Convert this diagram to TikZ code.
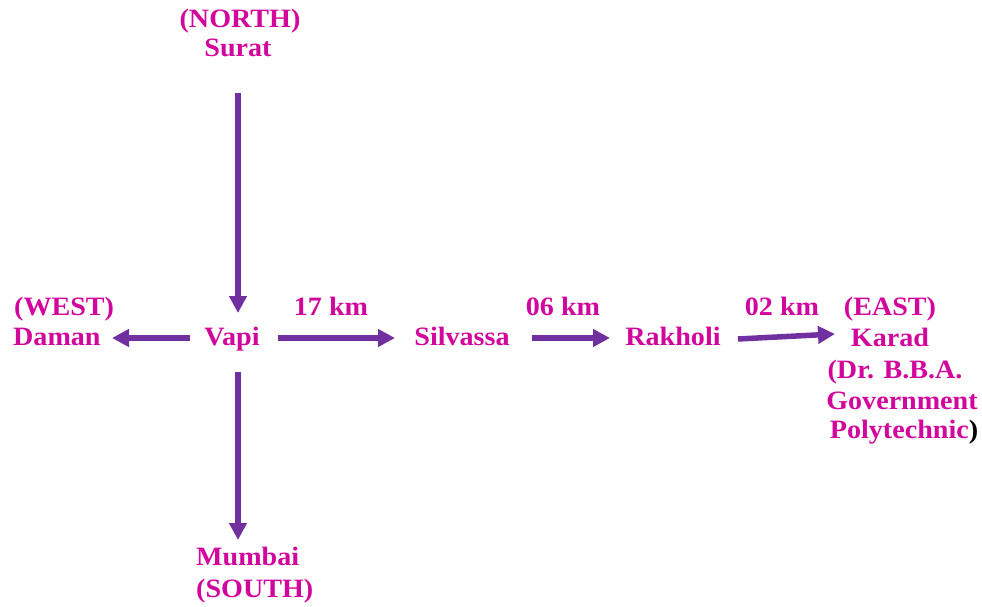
\documentclass[tikz,border=0pt]{standalone}
\usepackage{fontspec}
\setmainfont[BoldFeatures={FakeStretch=1.06}]{Liberation Serif}
\usetikzlibrary{arrows.meta}
\definecolor{txtc}{RGB}{210,6,156}
\definecolor{arrc}{RGB}{112,48,160}
\begin{document}
\begin{tikzpicture}[x=1pt,y=-1pt,
 lbl/.style={inner sep=0pt, anchor=base, text=txtc, font=\bfseries\fontsize{26.5}{31}\selectfont},
 lblw/.style={lbl, anchor=base west},
 conn/.style={draw=arrc, line width=5.5pt, -{Triangle[length=17pt,width=17pt]}}]
\useasboundingbox (0,0) rectangle (982,607);
% labels
\node[lbl] (north) at (240,28) {(NORTH)};
\node[lbl] (surat) at (238,57) {Surat};
\node[lblw] (west) at (14,315) {(WEST)};
\node[lblw] (daman) at (13,345) {Daman};
\node[lbl] (vapi) at (232,345) {Vapi};
\node[lbl] (km17) at (331,315) {17 km};
\node[lbl] (silvassa) at (462,345) {Silvassa};
\node[lbl] (km06) at (563,315) {06 km};
\node[lbl] (rakholi) at (673,345) {Rakholi};
\node[lbl] (km02) at (782,315) {02 km};
\node[lbl] (east) at (890,315) {(EAST)};
\node[lbl] (karad) at (890,346) {Karad};
\node[lbl] (dr) at (895,378) {(Dr. B.B.A.};
\node[lbl] (govt) at (902,409) {Government};
\node[lbl] (poly) at (904,438) {Polytechnic{\color{black})}};
\node[lblw] (mumbai) at (196,565) {Mumbai};
\node[lblw] (south) at (196,597) {(SOUTH)};
% arrow end points
\coordinate (nS) at (238,93);
\coordinate (nE) at (238,313);
\coordinate (sS) at (238,372);
\coordinate (sE) at (238,540);
\coordinate (wS) at (190,338);
\coordinate (wE) at (112,338);
\coordinate (e1S) at (278,338);
\coordinate (e1E) at (395,338);
\coordinate (e2S) at (532,338);
\coordinate (e2E) at (610,338);
\coordinate (e3S) at (738,339);
\coordinate (e3E) at (835,334);
% arrows
\draw[conn] (nS) -- (nE);
\draw[conn] (sS) -- (sE);
\draw[conn] (wS) -- (wE);
\draw[conn] (e1S) -- (e1E);
\draw[conn] (e2S) -- (e2E);
\draw[conn] (e3S) -- (e3E);
\end{tikzpicture}
\end{document}
